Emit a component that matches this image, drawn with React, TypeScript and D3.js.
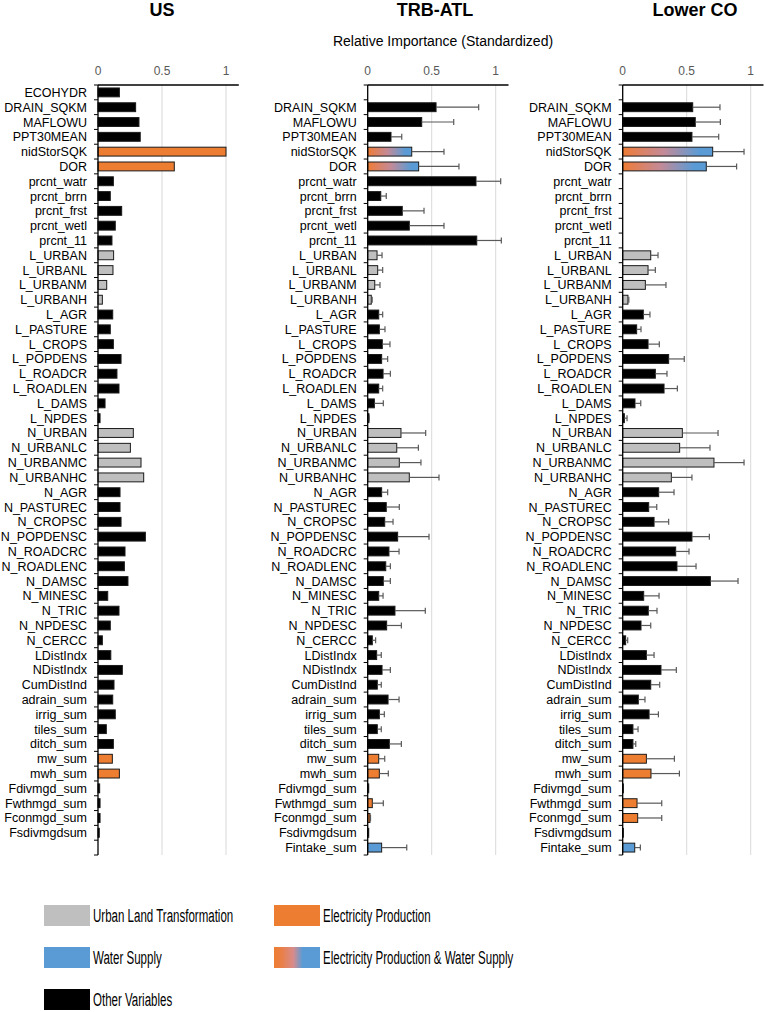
import React from 'react';
import * as d3 from 'd3';

// variable names (one row per variable, shared by all three panels)
const variables = [
  'ECOHYDR', 'DRAIN_SQKM', 'MAFLOWU', 'PPT30MEAN', 'nidStorSQK', 'DOR',
  'prcnt_watr', 'prcnt_brrn', 'prcnt_frst', 'prcnt_wetl', 'prcnt_11',
  'L_URBAN', 'L_URBANL', 'L_URBANM', 'L_URBANH', 'L_AGR', 'L_PASTURE', 'L_CROPS',
  'L_POPDENS', 'L_ROADCR', 'L_ROADLEN', 'L_DAMS', 'L_NPDES',
  'N_URBAN', 'N_URBANLC', 'N_URBANMC', 'N_URBANHC', 'N_AGR', 'N_PASTUREC', 'N_CROPSC',
  'N_POPDENSC', 'N_ROADCRC', 'N_ROADLENC', 'N_DAMSC', 'N_MINESC', 'N_TRIC', 'N_NPDESC',
  'N_CERCC', 'LDistIndx', 'NDistIndx', 'CumDistInd', 'adrain_sum', 'irrig_sum',
  'tiles_sum', 'ditch_sum', 'mw_sum', 'mwh_sum', 'Fdivmgd_sum', 'Fwthmgd_sum',
  'Fconmgd_sum', 'Fsdivmgdsum', 'Fintake_sum',
];

// null = variable not in that model (no label, no bar)
const usValues = [
  0.167, 0.294, 0.32, 0.33, 1.0, 0.596,
  0.12, 0.096, 0.185, 0.135, 0.109,
  0.122, 0.117, 0.068, 0.034, 0.115, 0.096, 0.12,
  0.18, 0.148, 0.164, 0.055, 0.016,
  0.276, 0.253, 0.336, 0.357, 0.172, 0.172, 0.18,
  0.37, 0.211, 0.206, 0.234, 0.076, 0.164, 0.096,
  0.034, 0.1, 0.19, 0.125, 0.115, 0.135,
  0.065, 0.12, 0.112, 0.167, 0.013, 0.016,
  0.016, 0.01, null,
];

const trbValues = [
  null, 0.534, 0.422, 0.182, 0.344, 0.398,
  0.846, 0.102, 0.27, 0.325, 0.852,
  0.073, 0.078, 0.055, 0.028, 0.086, 0.091, 0.114,
  0.109, 0.12, 0.086, 0.052, 0.01,
  0.26, 0.227, 0.247, 0.325, 0.109, 0.145, 0.133,
  0.234, 0.166, 0.141, 0.122, 0.086, 0.213, 0.148,
  0.036, 0.07, 0.112, 0.075, 0.159, 0.091,
  0.075, 0.169, 0.086, 0.091, 0.008, 0.036,
  0.018, 0.008, 0.109,
];
const trbErrors = [
  0, 0.333, 0.25, 0.084, 0.252, 0.315,
  0.193, 0.043, 0.17, 0.271, 0.192,
  0.039, 0.039, 0.041, 0.007, 0.031, 0.044, 0.06,
  0.047, 0.057, 0.031, 0.07, 0.002,
  0.193, 0.169, 0.169, 0.232, 0.047, 0.102, 0.065,
  0.245, 0.079, 0.036, 0.055, 0.034, 0.237, 0.115,
  0.026, 0.036, 0.065, 0.031, 0.086, 0.039,
  0.031, 0.094, 0.047, 0.07, 0, 0.086,
  0.004, 0, 0.196,
];

const lcoValues = [
  null, 0.547, 0.567, 0.541, 0.703, 0.653,
  0, 0, 0, 0, 0,
  0.219, 0.198, 0.177, 0.041, 0.161, 0.109, 0.198,
  0.359, 0.255, 0.323, 0.096, 0.013,
  0.466, 0.445, 0.713, 0.38, 0.281, 0.203, 0.245,
  0.541, 0.414, 0.424, 0.685, 0.164, 0.2, 0.143,
  0.023, 0.185, 0.299, 0.219, 0.122, 0.206,
  0.08, 0.08, 0.185, 0.221, 0.005, 0.112,
  0.117, 0.005, 0.094,
];
const lcoErrors = [
  0, 0.213, 0.196, 0.209, 0.245, 0.237,
  0, 0, 0, 0, 0,
  0.057, 0.057, 0.161, 0.007, 0.052, 0.034, 0.088,
  0.122, 0.091, 0.104, 0.045, 0.021,
  0.279, 0.237, 0.235, 0.161, 0.12, 0.063, 0.114,
  0.136, 0.104, 0.149, 0.216, 0.12, 0.068, 0.076,
  0.016, 0.06, 0.12, 0.07, 0.052, 0.073,
  0.04, 0.022, 0.219, 0.222, 0, 0.193,
  0.188, 0, 0.044,
];

// group codes: o other, u urban, e electricity, w water, ew both
const usGroups = [
  'o', 'o', 'o', 'o', 'e', 'e',
  'o', 'o', 'o', 'o', 'o',
  'u', 'u', 'u', 'u', 'o', 'o', 'o',
  'o', 'o', 'o', 'o', 'o',
  'u', 'u', 'u', 'u', 'o', 'o', 'o',
  'o', 'o', 'o', 'o', 'o', 'o', 'o',
  'o', 'o', 'o', 'o', 'o', 'o',
  'o', 'o', 'e', 'e', 'o', 'o',
  'o', 'o', 'w',
];
const basinGroups = [
  'o', 'o', 'o', 'o', 'ew', 'ew',
  'o', 'o', 'o', 'o', 'o',
  'u', 'u', 'u', 'u', 'o', 'o', 'o',
  'o', 'o', 'o', 'o', 'o',
  'u', 'u', 'u', 'u', 'o', 'o', 'o',
  'o', 'o', 'o', 'o', 'o', 'o', 'o',
  'o', 'o', 'o', 'o', 'o', 'o',
  'o', 'o', 'e', 'e', 'o', 'e',
  'e', 'o', 'w',
];

const xTicks = [0, 0.5, 1];
const xTickLabels = ['0', '0.5', '1'];

const legendItems = [
  { group: 'u', label: 'Urban Land Transformation' },
  { group: 'w', label: 'Water Supply' },
  { group: 'o', label: 'Other Variables' },
  { group: 'e', label: 'Electricity Production' },
  { group: 'ew', label: 'Electricity Production & Water Supply' },
];

const FILL = { o: '#000000', u: '#bfbfbf', e: '#ed7d31', w: '#5b9bd5', ew: 'url(#gradEW)' };
const LEGEND_FILL = { ...FILL, ew: 'url(#gradEWlegend)' };

const panels = [
  { title: 'US', x0: 98, titleX: 162, values: usValues, errors: null, groups: usGroups },
  { title: 'TRB-ATL', x0: 367.7, titleX: 435, values: trbValues, errors: trbErrors, groups: basinGroups },
  { title: 'Lower CO', x0: 622.7, titleX: 695, values: lcoValues, errors: lcoErrors, groups: basinGroups },
];

// legend layout: swatch corner for each item
const legendPos = [
  { x: 44, y: 905 },
  { x: 44, y: 947 },
  { x: 44, y: 989 },
  { x: 274, y: 905 },
  { x: 274, y: 947 },
];

const W = 765;
const H = 1012;
const top = 85;
const bottom = 855;
const font = 'Liberation Sans, Arial, sans-serif';

const Panel = ({ p }) => {
  const x = d3.scaleLinear().domain([0, 1.1]).range([p.x0, p.x0 + 140.8]);
  const y = d3.scaleBand().domain(variables).range([top, bottom]).paddingInner(0.4).paddingOuter(0.2);
  const step = y.step();
  const bw = y.bandwidth();

  return (
    <g>
      <text x={p.titleX} y={16} textAnchor="middle" fontSize={18} fontWeight="bold" fontFamily={font}>{p.title}</text>
      {/* gridlines */}
      {xTicks.filter(t => t > 0).map(t => (
        <line key={t} x1={x(t)} x2={x(t)} y1={top} y2={bottom} stroke="#d9d9d9" strokeWidth={1} />
      ))}
      {/* tick labels */}
      {xTicks.map((t, i) => (
        <text key={t} x={x(t)} y={75} textAnchor="middle" fontSize={12} fill="#595959" fontFamily={font}>{xTickLabels[i]}</text>
      ))}
      {/* bars */}
      {variables.map((v, i) => {
        const val = p.values[i];
        if (val == null || val <= 0) return null;
        return (
          <rect key={v} x={x(0)} y={y(v)} width={x(val) - x(0)} height={bw}
            fill={FILL[p.groups[i]]} stroke="#1a1a1a" strokeWidth={1} />
        );
      })}
      {/* error bars */}
      {p.errors && variables.map((v, i) => {
        const val = p.values[i];
        const e = p.errors[i];
        if (val == null || !e) return null;
        const cy = y(v) + bw / 2;
        return (
          <g key={v} stroke="#595959" strokeWidth={1.2}>
            <line x1={x(val)} x2={x(val + e)} y1={cy} y2={cy} />
            <line x1={x(val + e)} x2={x(val + e)} y1={cy - 3} y2={cy + 3} />
          </g>
        );
      })}
      {/* category labels */}
      {variables.map((v, i) => p.values[i] == null ? null : (
        <text key={v} x={p.x0 - 11} y={y(v) + bw / 2} dy="0.36em" textAnchor="end"
          fontSize={12.5} fontFamily={font} fill="#000">{v}</text>
      ))}
      {/* axes */}
      <line x1={x(0)} x2={x(1.1)} y1={top} y2={top} stroke="#000" strokeWidth={1.3} />
      <line x1={x(0)} x2={x(0)} y1={top} y2={bottom} stroke="#000" strokeWidth={1.3} />
      {d3.range(variables.length + 1).map(k => (
        <line key={k} x1={x(0) - 4} x2={x(0)} y1={top + k * step} y2={top + k * step} stroke="#000" strokeWidth={1} />
      ))}
    </g>
  );
};

export default function App() {
  return (
    <svg width={W} height={H} style={{ position: 'absolute', left: 0, top: 0, background: '#fff' }}>
      <defs>
        <linearGradient id="gradEW" x1="0" x2="1" y1="0" y2="0">
          <stop offset="0%" stopColor="#ed7d31" />
          <stop offset="8%" stopColor="#e87e48" />
          <stop offset="45%" stopColor="#c48a97" />
          <stop offset="85%" stopColor="#5b9bd5" />
          <stop offset="100%" stopColor="#5b9bd5" />
        </linearGradient>
        <linearGradient id="gradEWlegend" x1="0" x2="1" y1="0" y2="0">
          <stop offset="0%" stopColor="#ed7d31" />
          <stop offset="18%" stopColor="#e9804a" />
          <stop offset="42%" stopColor="#d88b8c" />
          <stop offset="62%" stopColor="#5b9bd5" />
          <stop offset="100%" stopColor="#5b9bd5" />
        </linearGradient>
      </defs>
      <rect width={W} height={H} fill="#fff" />
      <text x={443} y={46} textAnchor="middle" fontSize={14} fontFamily={font} fill="#000">Relative Importance (Standardized)</text>
      {panels.map(p => <Panel key={p.title} p={p} />)}
      {legendItems.map((d, i) => {
        const pos = legendPos[i];
        return (
          <g key={d.label}>
            <rect x={pos.x} y={pos.y} width={46} height={21} fill={LEGEND_FILL[d.group]} />
            <text transform={`translate(${pos.x + 49},${pos.y + 10.5}) scale(0.64,1)`} dy="0.36em"
              fontSize={18} fontFamily={font} fill="#000">{d.label}</text>
          </g>
        );
      })}
    </svg>
  );
}
